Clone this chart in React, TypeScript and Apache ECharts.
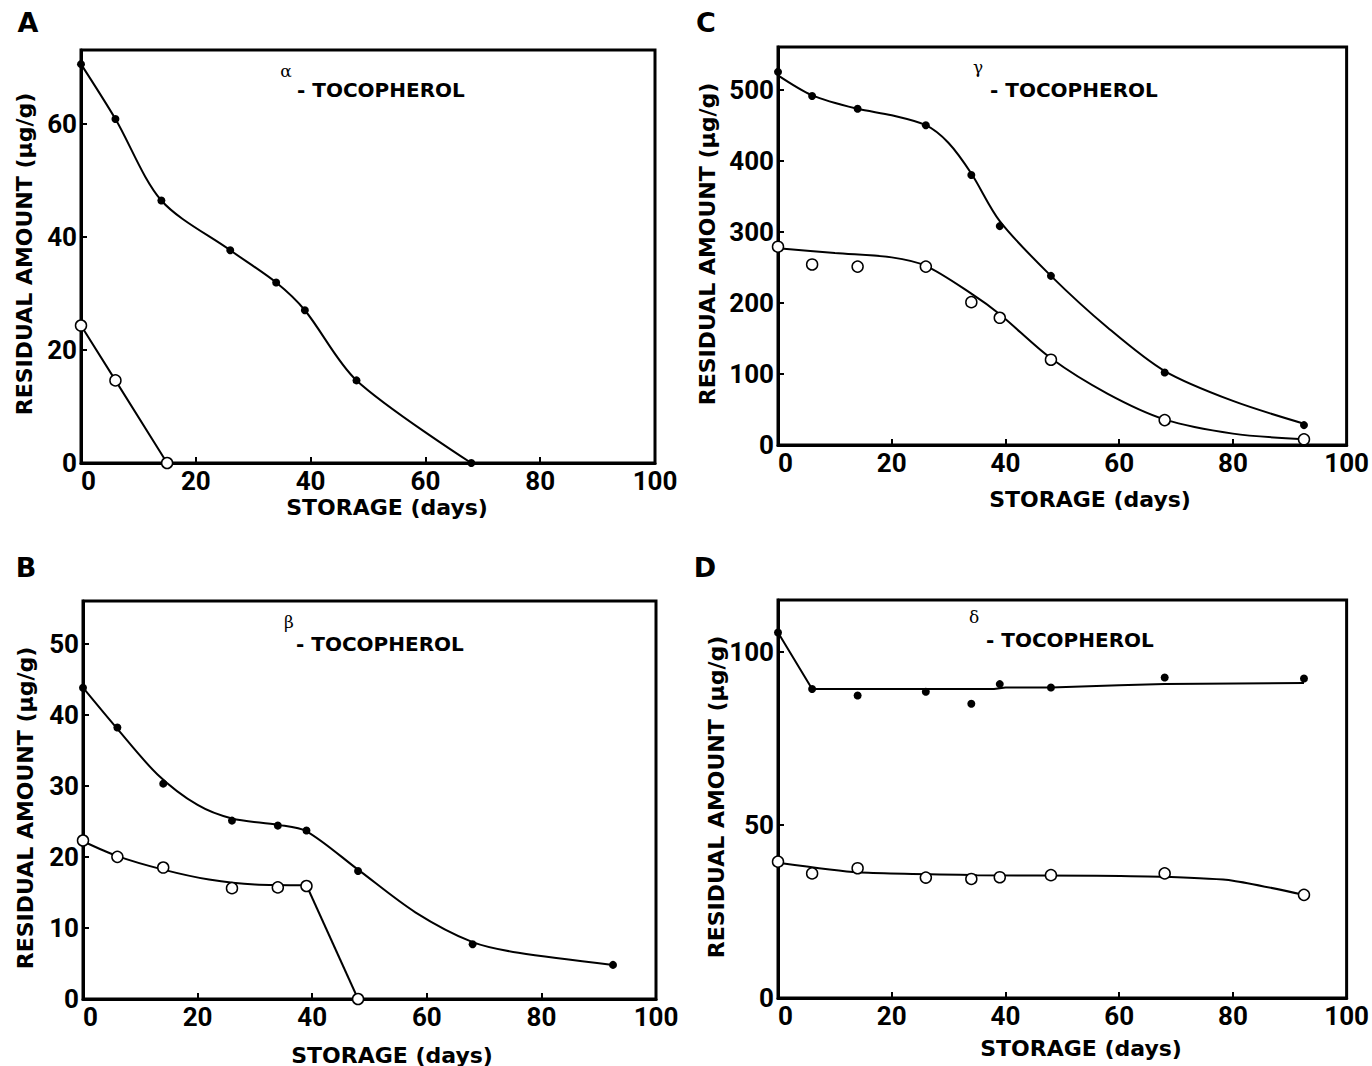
import React, { useEffect, useRef } from "react";
import * as echarts from "echarts";

// ---- Panel A: alpha-tocopherol ----
const A_DAYS_FILLED = [0, 6, 14, 26, 34, 39, 48, 68];
const A_FILLED = [70.5, 60.8, 46.4, 37.6, 31.9, 27.0, 14.6, 0];
const A_DAYS_OPEN = [0, 6, 15];
const A_OPEN = [24.3, 14.6, 0];

// ---- Panel B: beta-tocopherol ----
const B_DAYS_FILLED = [0, 6, 14, 26, 34, 39, 48, 68, 92.5];
const B_FILLED = [43.8, 38.2, 30.3, 25.1, 24.4, 23.7, 18.0, 7.7, 4.8];
const B_CURVE_FILLED_X = [0, 6, 13, 20, 26, 34, 39, 48, 58, 68, 76, 92.5];
const B_CURVE_FILLED_Y = [43.8, 38.0, 31.6, 27.3, 25.4, 24.5, 23.6, 18.2, 12.2, 8.0, 6.5, 4.8];
const B_DAYS_OPEN = [0, 6, 14, 26, 34, 39, 48];
const B_OPEN = [22.3, 20.0, 18.5, 15.6, 15.7, 15.9, 0];
const B_CURVE_OPEN_X = [0, 6, 14, 22, 30, 39];
const B_CURVE_OPEN_Y = [22.2, 20.1, 18.2, 16.8, 16.1, 16.0];
const B_DROP_X = [39, 48];
const B_DROP_Y = [16.0, 0];

// ---- Panel C: gamma-tocopherol ----
const C_DAYS = [0, 6, 14, 26, 34, 39, 48, 68, 92.5];
const C_FILLED = [525, 491, 473, 450, 380, 308, 238, 102, 28];
const C_OPEN = [279, 254, 251, 251, 201, 179, 120, 35, 8];
const C_CURVE_FILLED_X = [0, 6, 14, 20, 26, 30, 34, 39, 48, 58, 68, 80, 92.5];
const C_CURVE_FILLED_Y = [520, 492, 473, 464, 450, 425, 382, 315, 238, 165, 104, 62, 30];
const C_CURVE_OPEN_X = [0, 10, 20, 26, 34, 39, 48, 58, 68, 80, 92.5];
const C_CURVE_OPEN_Y = [277, 270, 264, 252, 213, 184, 122, 72, 36, 16, 8];

// ---- Panel D: delta-tocopherol ----
const D_DAYS = [0, 6, 14, 26, 34, 39, 48, 68, 92.5];
const D_FILLED = [105.6, 89.3, 87.4, 88.5, 85.0, 90.7, 89.7, 92.6, 92.3];
const D_OPEN = [39.4, 36.0, 37.5, 34.8, 34.4, 34.9, 35.5, 36.0, 29.8];
const D_CURVE_FILLED_X = [0, 6, 38, 40, 48, 60, 68, 92.5];
const D_CURVE_FILLED_Y = [105.6, 89.3, 89.3, 89.7, 89.7, 90.4, 90.7, 91.0];
const D_CURVE_OPEN_X = [0, 14, 35, 56, 68, 80, 92.5];
const D_CURVE_OPEN_Y = [39.1, 36.3, 35.5, 35.3, 35.0, 33.9, 29.8];

// ---- Axes ----
const X_MAX = 100;
const X_INTERVAL = 20;
const Y_MAX = [73, 560, 56, 115]; // A, C, B, D
const Y_INTERVAL = [20, 100, 10, 50];

const TITLE_GREEK = ["α", "γ", "β", "δ"];
const PANEL_LETTERS = ["A", "C", "B", "D"];
const TITLE_TEXT = "- TOCOPHEROL";
const X_TITLE = "STORAGE (days)";
const Y_TITLE = "RESIDUAL AMOUNT (μg/g)";

const pairs = (xs: number[], ys: number[]) => xs.map((x, i) => [x, ys[i]]);

const GRIDS = [
  { left: 81, top: 50, width: 574, height: 413 },
  { left: 778, top: 47, width: 570, height: 398 },
  { left: 83, top: 601, width: 573, height: 398 },
  { left: 778, top: 600, width: 570, height: 398 },
];

const LAYOUT = [
  { letter: [28, 22], greek: [286, 71], title: [297, 90], xt: [387, 507], yt: [24, 254] },
  { letter: [706, 22], greek: [978, 67], title: [990, 90], xt: [1090, 499], yt: [707, 244] },
  { letter: [26, 567], greek: [289, 622], title: [296, 644], xt: [392, 1055], yt: [25, 808] },
  { letter: [705, 567], greek: [974, 617], title: [986, 640], xt: [1081, 1048], yt: [716, 797] },
];

const TICK_FONT = "Roboto";
const BOLD = "DejaVu Sans";

function buildOption() {
  const grid = GRIDS.map((g) => ({
    ...g,
    show: true,
    borderColor: "#000",
    borderWidth: 3,
    backgroundColor: "transparent",
    containLabel: false,
  }));

  const xAxis = GRIDS.map((_, i) => ({
    type: "value",
    gridIndex: i,
    min: 0,
    max: X_MAX,
    interval: X_INTERVAL,
    axisLine: { show: true, onZero: false, lineStyle: { color: "#000", width: 3 } },
    axisTick: { show: true, inside: true, length: 6, lineStyle: { color: "#000", width: 2 } },
    splitLine: { show: false },
    axisLabel: {
      color: "#000",
      fontFamily: TICK_FONT,
      fontWeight: "bold",
      fontSize: 26,
      margin: 5,
      alignMinLabel: "left",
    },
  }));

  const yAxis = GRIDS.map((_, i) => ({
    type: "value",
    gridIndex: i,
    min: 0,
    max: Y_MAX[i],
    interval: Y_INTERVAL[i],
    axisLine: { show: true, onZero: false, lineStyle: { color: "#000", width: 3 } },
    axisTick: { show: true, inside: true, length: 6, lineStyle: { color: "#000", width: 2 } },
    splitLine: { show: false },
    axisLabel: {
      color: "#000",
      fontFamily: TICK_FONT,
      fontWeight: "bold",
      fontSize: 26,
      margin: 4,
      showMaxLabel: false,
      formatter: (v: number) => (v % Y_INTERVAL[i] === 0 ? String(v) : ""),
    },
  }));

  const line = (idx: number, data: number[][], smooth: number | boolean) => ({
    type: "line",
    xAxisIndex: idx,
    yAxisIndex: idx,
    data,
    smooth,
    showSymbol: false,
    symbol: "none",
    lineStyle: { color: "#000", width: 2 },
    z: 2,
    silent: true,
  });
  const filled = (idx: number, data: number[][]) => ({
    type: "scatter",
    xAxisIndex: idx,
    yAxisIndex: idx,
    data,
    symbol: "circle",
    symbolSize: 8,
    itemStyle: { color: "#000", opacity: 1 },
    z: 4,
  });
  const open = (idx: number, data: number[][]) => ({
    type: "scatter",
    xAxisIndex: idx,
    yAxisIndex: idx,
    data,
    symbol: "circle",
    symbolSize: 11,
    itemStyle: { color: "#fff", borderColor: "#000", borderWidth: 1.5, opacity: 1 },
    z: 5,
  });

  const series = [
    // A
    line(0, pairs(A_DAYS_FILLED, A_FILLED), 0.3),
    line(0, pairs(A_DAYS_OPEN, A_OPEN), false),
    filled(0, pairs(A_DAYS_FILLED, A_FILLED)),
    open(0, pairs(A_DAYS_OPEN, A_OPEN)),
    // C
    line(1, pairs(C_CURVE_FILLED_X, C_CURVE_FILLED_Y), 0.3),
    line(1, pairs(C_CURVE_OPEN_X, C_CURVE_OPEN_Y), 0.3),
    filled(1, pairs(C_DAYS, C_FILLED)),
    open(1, pairs(C_DAYS, C_OPEN)),
    // B
    line(2, pairs(B_CURVE_FILLED_X, B_CURVE_FILLED_Y), 0.3),
    line(2, pairs(B_CURVE_OPEN_X, B_CURVE_OPEN_Y), 0.3),
    line(2, pairs(B_DROP_X, B_DROP_Y), false),
    filled(2, pairs(B_DAYS_FILLED, B_FILLED)),
    open(2, pairs(B_DAYS_OPEN, B_OPEN)),
    // D
    line(3, pairs(D_CURVE_FILLED_X, D_CURVE_FILLED_Y), false),
    line(3, pairs(D_CURVE_OPEN_X, D_CURVE_OPEN_Y), 0.2),
    filled(3, pairs(D_DAYS, D_FILLED)),
    open(3, pairs(D_DAYS, D_OPEN)),
  ];

  const graphic: any[] = [];
  const txt = (x: number, y: number, text: string, font: string, align: string, rotation = 0) => ({
    type: "text",
    x,
    y,
    rotation,
    style: {
      text,
      fill: "#000",
      font,
      textAlign: align,
      textVerticalAlign: "middle",
      align,
      verticalAlign: "middle",
    },
  });
  LAYOUT.forEach((L, i) => {
    graphic.push(txt(L.letter[0], L.letter[1], PANEL_LETTERS[i], `bold 27px "${BOLD}"`, "center"));
    graphic.push(txt(L.greek[0], L.greek[1], TITLE_GREEK[i], `normal 17px "DejaVu Serif"`, "center"));
    graphic.push(txt(L.title[0], L.title[1], TITLE_TEXT, `bold 20px "${BOLD}"`, "left"));
    graphic.push(txt(L.xt[0], L.xt[1], X_TITLE, `bold 22px "${BOLD}"`, "center"));
    graphic.push(txt(L.yt[0], L.yt[1], Y_TITLE, `bold 22px "${BOLD}"`, "center", Math.PI / 2));
  });

  return {
    animation: false,
    backgroundColor: "#fff",
    grid,
    xAxis,
    yAxis,
    series,
    graphic,
  };
}

export default function App() {
  const ref = useRef<HTMLDivElement>(null);
  useEffect(() => {
    if (!ref.current) return;
    const chart = echarts.init(ref.current, undefined, { renderer: "svg" });
    chart.setOption(buildOption() as any);
    return () => chart.dispose();
  }, []);
  return (
    <div
      ref={ref}
      style={{ position: "absolute", left: 0, top: 0, width: 1372, height: 1066, background: "#fff" }}
    />
  );
}
